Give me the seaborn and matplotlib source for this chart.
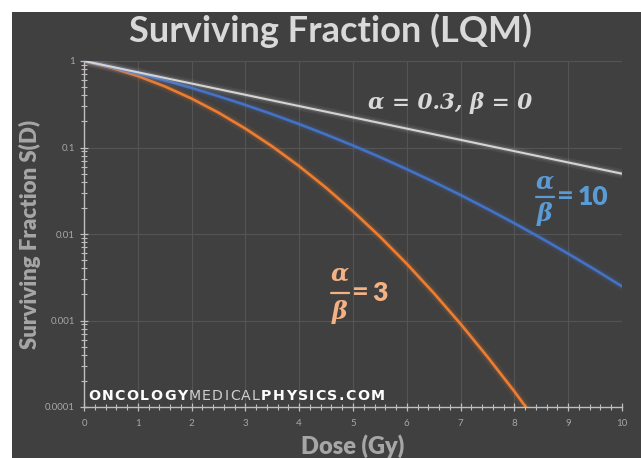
import numpy as np
import pandas as pd
import matplotlib
matplotlib.use("Agg")
import matplotlib.pyplot as plt
import matplotlib.patheffects as pe
from matplotlib.patches import Rectangle
from matplotlib.ticker import LogLocator, FixedLocator, MultipleLocator, FuncFormatter
import seaborn as sns

# Surviving fraction S(D) read at 0.5 Gy steps
dose = [0.0, 0.5, 1.0, 1.5, 2.0, 2.5, 3.0, 3.5, 4.0, 4.5, 5.0,
        5.5, 6.0, 6.5, 7.0, 7.5, 8.0, 8.5, 9.0, 9.5, 10.0]
sf_linear = [1.0, 0.8607, 0.7408, 0.6376, 0.5488, 0.4724, 0.4066, 0.3499, 0.3012, 0.2592, 0.2231,
             0.1920, 0.1653, 0.1423, 0.1225, 0.1054, 0.0907, 0.0781, 0.0672, 0.0578, 0.0498]
sf_ab10 = [1.0, 0.8543, 0.7189, 0.5960, 0.4868, 0.3916, 0.3104, 0.2423, 0.1864, 0.1412, 0.1054,
           0.0775, 0.0561, 0.0401, 0.0282, 0.0195, 0.0133, 0.00894, 0.00592, 0.00386, 0.00248]
dose_ab3 = [0.0, 0.5, 1.0, 1.5, 2.0, 2.5, 3.0, 3.5, 4.0, 4.5, 5.0,
            5.5, 6.0, 6.5, 7.0, 7.5, 8.0, 8.5]
sf_ab3 = [1.0, 0.8395, 0.6703, 0.5092, 0.3679, 0.2528, 0.1653, 0.1028, 0.0608, 0.0342, 0.0183,
          0.00933, 0.00452, 0.00208, 0.000912, 0.000380, 0.000151, 0.0000569]

x_ticks = [0, 1, 2, 3, 4, 5, 6, 7, 8, 9, 10]
y_ticks = [0.0001, 0.001, 0.01, 0.1, 1]
y_tick_labels = ["0.0001", "0.001", "0.01", "0.1", "1"]

df = pd.concat([
    pd.DataFrame({"dose": dose, "sf": sf_linear, "curve": "linear"}),
    pd.DataFrame({"dose": dose, "sf": sf_ab10, "curve": "ab10"}),
    pd.DataFrame({"dose": dose_ab3, "sf": sf_ab3, "curve": "ab3"}),
], ignore_index=True)

BG = "#404040"
palette = {"linear": "#d4d4d4", "ab10": "#4472c4", "ab3": "#ed7d31"}
widths = {"linear": 1.5, "ab10": 1.9, "ab3": 1.9}

sns.set_style("dark")
plt.rcParams["font.family"] = ["Lato", "DejaVu Sans"]

fig = plt.figure(figsize=(6.41, 4.58), dpi=100, facecolor="white")
fig.patches.append(Rectangle((12 / 641, 0), 1, 1 - 12 / 458, transform=fig.transFigure,
                             facecolor=BG, edgecolor="none", zorder=-10))
ax = fig.add_axes([84 / 641, 1 - 407 / 458, (622 - 84) / 641, (407 - 61) / 458])
ax.set_facecolor(BG)

order = ["ab3", "ab10", "linear"]
sns.lineplot(data=df, x="dose", y="sf", hue="curve", palette=palette,
             hue_order=order, linewidth=1.9, legend=False, ax=ax)
for line, key in zip(ax.lines, order):
    c = line.get_color()
    w = widths[key]
    line.set_linewidth(w)
    line.set_path_effects([pe.Stroke(linewidth=w + 5, foreground=c, alpha=0.07),
                           pe.Stroke(linewidth=w + 2, foreground=c, alpha=0.15),
                           pe.Normal()])

ax.set_yscale("log")
ax.set_xlim(0, 10)
ax.set_ylim(1e-4, 1)
ax.xaxis.set_major_locator(FixedLocator(x_ticks))
ax.xaxis.set_minor_locator(MultipleLocator(0.2))
ax.yaxis.set_major_locator(FixedLocator(y_ticks))
ax.yaxis.set_minor_locator(LogLocator(base=10, subs=np.arange(2, 10)))
ax.set_xticklabels([str(t) for t in x_ticks])
ax.set_yticklabels(y_tick_labels)
ax.yaxis.set_minor_formatter(FuncFormatter(lambda v, p: ""))

ax.grid(which="major", color="#545454", linewidth=0.8)
ax.grid(which="minor", visible=False)
for side in ["top", "right"]:
    ax.spines[side].set_visible(False)
for side in ["left", "bottom"]:
    ax.spines[side].set_visible(True)
    ax.spines[side].set_color("#bfbfbf")
    ax.spines[side].set_linewidth(1.0)
ax.tick_params(which="both", direction="inout", colors="#bfbfbf", labelcolor="#a6a6a6",
               labelsize=7, bottom=True, left=True)
ax.tick_params(which="major", length=6, width=0.9)
ax.tick_params(which="minor", length=5, width=0.8)
ax.tick_params(axis="x", pad=6)

ax.set_xlabel("Dose (Gy)", fontsize=17, fontweight="heavy", color="#a6a6a6", labelpad=4)
ax.set_ylabel("Surviving Fraction S(D)", fontsize=16, fontweight="heavy", color="#a6a6a6", labelpad=3)
fig.text(0.516, 0.934, "Surviving Fraction (LQM)", ha="center", va="center",
         fontsize=26, fontweight="bold", color="#d9d9d9")

# Curve labels
ax.text(6.8, 0.33, "α = 0.3, β = 0", ha="center", va="center", fontsize=15.5,
        family="DejaVu Serif", style="italic", fontweight="bold", color="#d9d9d9")


def ratio_label(x, y, value, color, num_dy, den_dy, bar_half):
    """Stacked alpha/beta fraction followed by '=value'."""
    serif = dict(family="DejaVu Serif", style="italic", fontweight="bold",
                 fontsize=17, color=color, ha="center", va="center")
    ax.annotate("α", (x, y), xytext=(0, num_dy), textcoords="offset points", **serif)
    ax.annotate("β", (x, y), xytext=(0, -den_dy), textcoords="offset points", **serif)
    for sgn in (-1, 1):
        ax.annotate("", (x, y), xytext=(sgn * bar_half, 0), textcoords="offset points",
                    arrowprops=dict(arrowstyle="-", color=color, lw=1.6,
                                    shrinkA=0, shrinkB=0))
    ax.annotate("=", (x, y), xytext=(bar_half + 2, 0), textcoords="offset points",
                ha="left", va="center", fontsize=21, fontweight="bold", color=color)
    ax.annotate(value, (x, y), xytext=(bar_half + 17, 0), textcoords="offset points",
                ha="left", va="center", fontsize=19, fontweight="heavy", color=color)


ratio_label(8.57, 0.0268, "10", "#5b9bd5", 11, 12, 6.5)
ratio_label(4.76, 0.00208, "3", "#f4b183", 14, 14, 6.5)

# Site watermark, letter-spaced to its full width
fig.canvas.draw()
renderer = fig.canvas.get_renderer()
parts = [("ONCOLOGY", "white", "bold"), ("MEDICAL", "#cfcfcf", "normal"),
         ("PHYSICS.COM", "white", "bold")]
chars = [(ch, col, wt) for part, col, wt in parts for ch in part]
left_px, right_px, base_px = 88, 385, 400
fs = 10.2
widths_px = []
for ch, col, wt in chars:
    t = fig.text(0, 0, ch, fontsize=fs, family="DejaVu Sans", fontweight=wt)
    widths_px.append(t.get_window_extent(renderer).width)
    t.remove()
track = (right_px - left_px - sum(widths_px)) / (len(chars) - 1)
xpos = left_px
for (ch, col, wt), w in zip(chars, widths_px):
    fig.text(xpos / 641, 1 - base_px / 458, ch, ha="left", va="baseline", fontsize=fs,
             family="DejaVu Sans", fontweight=wt, color=col)
    xpos += w + track

fig.savefig("out.png", dpi=100, facecolor=fig.get_facecolor())
